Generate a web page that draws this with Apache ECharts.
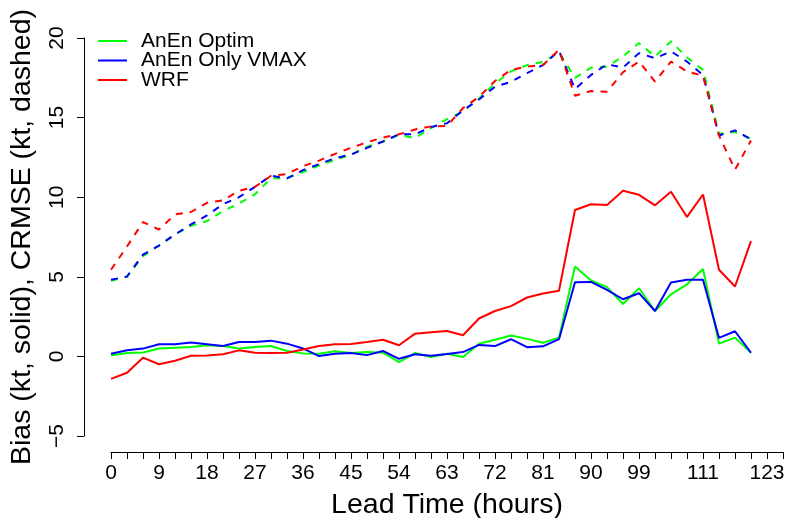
<!DOCTYPE html>
<html><head><meta charset="utf-8">
<script src="https://cdn.jsdelivr.net/npm/echarts@6/dist/echarts.min.js"></script>
<style>html,body{margin:0;padding:0;background:#fff}#c{width:788px;height:518px}</style>
</head><body><div id="c"></div>
<script>
const leadHours = [0,3,6,9,12,15,18,21,24,27,30,33,36,39,42,45,48,51,54,57,60,63,66,69,72,75,78,81,84,87,90,93,96,99,102,105,108,111,114,117,120];
const xTickLabels = [0,9,18,27,36,45,54,63,72,81,90,99,111,123];
const seriesNames = ['AnEn Optim','AnEn Only VMAX','WRF'];
const biasOptim = [0.06,0.21,0.25,0.5,0.55,0.59,0.7,0.65,0.49,0.59,0.65,0.34,0.19,0.17,0.32,0.21,0.27,0.23,-0.36,0.21,-0.04,0.17,-0.04,0.8,1.05,1.31,1.1,0.86,1.18,5.65,4.77,4.35,3.29,4.28,2.85,3.9,4.53,5.49,0.8,1.18,0.23];
const biasVmax = [0.17,0.38,0.49,0.76,0.76,0.87,0.76,0.65,0.91,0.91,0.99,0.8,0.5,0.02,0.17,0.21,0.08,0.34,-0.15,0.13,0.04,0.15,0.27,0.72,0.65,1.08,0.58,0.63,1.08,4.66,4.68,4.18,3.59,3.97,2.85,4.64,4.81,4.81,1.16,1.58,0.23];
const biasWrf = [-1.41,-1.03,-0.08,-0.49,-0.27,0.04,0.06,0.13,0.38,0.23,0.21,0.23,0.43,0.65,0.76,0.78,0.91,1.05,0.7,1.43,1.52,1.6,1.33,2.38,2.85,3.16,3.7,3.95,4.13,9.2,9.56,9.51,10.4,10.15,9.49,10.34,8.76,10.17,5.44,4.39,7.24];
const crmseOptim = [4.75,5.0,6.3,6.96,7.66,8.2,8.5,9.13,9.6,10.19,11.18,11.2,11.58,11.98,12.35,12.66,13.17,13.5,13.93,13.71,14.34,14.9,15.4,16.2,17.15,17.9,18.3,18.5,19.1,17.5,18.14,18.2,18.84,19.68,18.84,19.79,18.78,18.0,13.99,14.1,13.67];
const crmseVmax = [4.81,5.02,6.39,6.96,7.66,8.29,8.86,9.56,10.0,10.65,11.35,11.18,11.7,12.07,12.45,12.68,13.1,13.5,13.95,13.95,14.4,14.65,15.45,16.14,16.94,17.25,17.8,18.3,19.2,16.79,17.68,18.35,18.14,19.05,18.73,19.16,18.52,17.68,13.88,14.2,13.63];
const crmseWrf = [5.44,6.9,8.44,7.97,8.92,9.07,9.65,9.8,10.4,10.65,11.35,11.46,11.95,12.3,12.72,13.1,13.45,13.75,13.95,14.25,14.45,14.47,15.6,16.3,17.3,18.0,18.2,18.3,19.26,16.37,16.67,16.62,17.85,18.52,17.26,18.52,17.89,17.63,13.88,11.73,13.56];

const FONT = '"Liberation Sans", Arial, sans-serif';
const colors = ['#00ff00','#0000ff','#ff0000'];
function pairs(v){ return leadHours.map((h,i)=>[h,v[i]]); }
function line(name, data, color, dashed){
  return {name:name, type:'line', data:pairs(data), symbol:'none', smooth:false,
    lineStyle:{color:color, width:2, type: dashed ? [7,7] : 'solid'}, itemStyle:{color:color}};
}
const chart = echarts.init(document.getElementById('c'), null, {renderer:'canvas'});
chart.setOption({
  animation:false,
  backgroundColor:'#ffffff',
  grid:{left:111, right:5, top:38, bottom:82, containLabel:false, outerBoundsMode:'none'},
  legend:{data:seriesNames, orient:'vertical', left:98, top:30.5, padding:0, icon:'rect', itemWidth:29, itemHeight:2, itemGap:-1.5,
    selectedMode:false, textStyle:{fontSize:21, fontFamily:FONT, color:'#000', padding:[0,0,0,9]}},
  xAxis:{type:'value', min:0, max:126, interval:3, offset:16,
    axisLine:{show:true, onZero:false, lineStyle:{color:'#000', width:1}},
    axisTick:{show:true, length:7, lineStyle:{color:'#000', width:1}},
    axisLabel:{margin:11, fontSize:21, color:'#000', fontFamily:FONT, showMinLabel:true, showMaxLabel:true,
      formatter:function(v){ return xTickLabels.indexOf(v) >= 0 ? String(v) : ''; }},
    splitLine:{show:false},
    name:'Lead Time (hours)', nameLocation:'middle', nameGap:39,
    nameTextStyle:{fontSize:28.5, color:'#000', fontFamily:FONT}},
  yAxis:{type:'value', min:-5, max:20, interval:5, offset:27,
    axisLine:{show:true, onZero:false, lineStyle:{color:'#000', width:1}},
    axisTick:{show:true, length:7, lineStyle:{color:'#000', width:1}},
    axisLabel:{rotate:90, margin:16, fontSize:21, color:'#000', fontFamily:FONT,
      formatter:function(v){ return v < 0 ? '\u2212' + Math.abs(v) : String(v); }},
    splitLine:{show:false},
    name:'Bias (kt, solid), CRMSE (kt, dashed)', nameLocation:'middle', nameGap:47, nameRotate:90,
    nameTextStyle:{fontSize:28.5, color:'#000', fontFamily:FONT}},
  series:[
    line(seriesNames[0], biasOptim, colors[0], false),
    line(seriesNames[1], biasVmax, colors[1], false),
    line(seriesNames[2], biasWrf, colors[2], false),
    line(seriesNames[0]+' CRMSE', crmseOptim, colors[0], true),
    line(seriesNames[1]+' CRMSE', crmseVmax, colors[1], true),
    line(seriesNames[2]+' CRMSE', crmseWrf, colors[2], true)
  ]
});
</script></body></html>
